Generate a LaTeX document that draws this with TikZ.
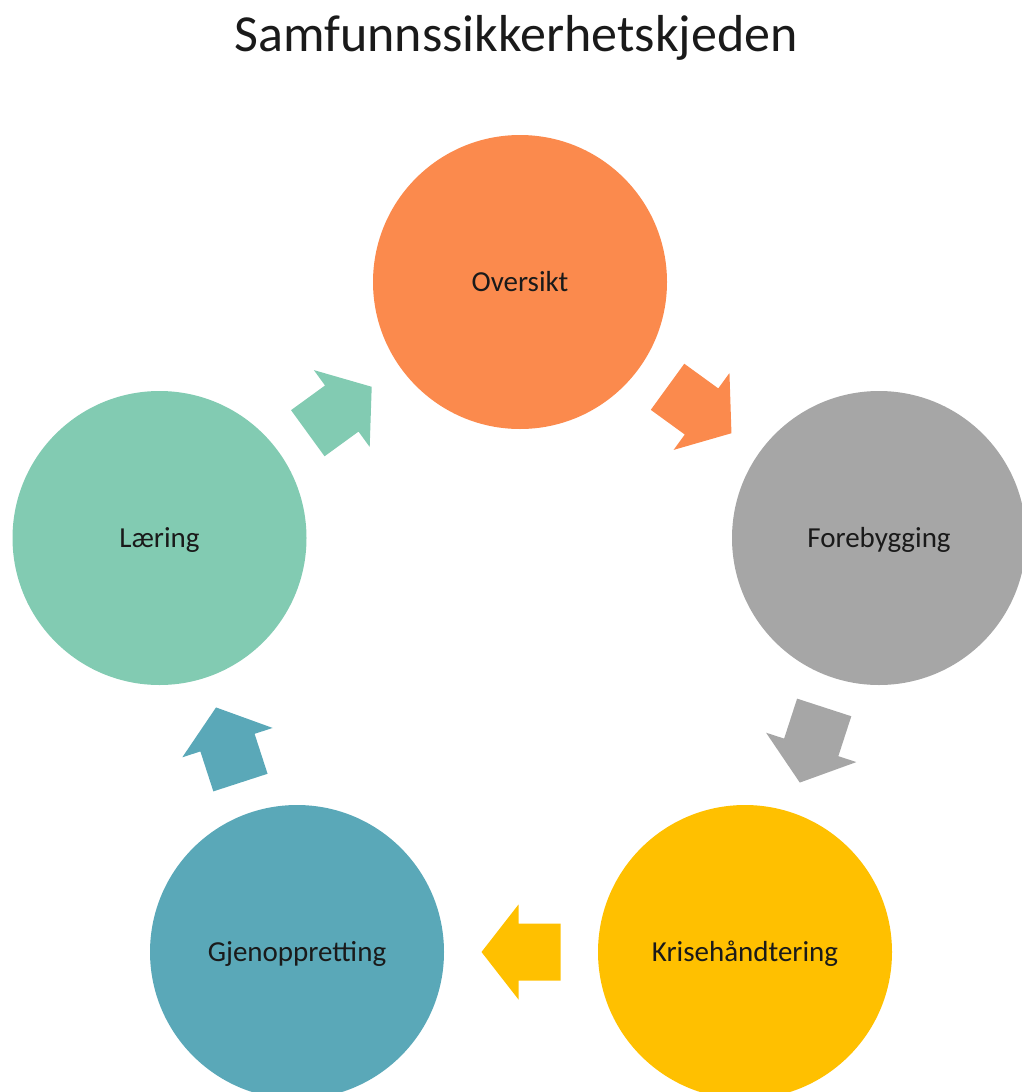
\documentclass[tikz,border=0pt]{standalone}
\usepackage{fontspec}
\setmainfont{Carlito}
\usetikzlibrary{calc}
\definecolor{cOrange}{HTML}{FB8A4D}
\definecolor{cGray}{HTML}{A6A6A6}
\definecolor{cYellow}{HTML}{FFC000}
\definecolor{cBlue}{HTML}{5AA8B8}
\definecolor{cGreen}{HTML}{82CBB2}
\definecolor{cText}{HTML}{1A1A1A}
\newcommand\blockarrow[3]{%
  \fill[#3, shift={(#1)}, rotate=#2]
    (-39.5,28.5) -- (2.5,28.5) -- (2.5,47.5) -- (39.5,0)
    -- (2.5,-47.5) -- (2.5,-28.5) -- (-39.5,-28.5) -- cycle;}
\begin{document}
\begin{tikzpicture}[x=1pt,y=1pt,
  phase/.style={circle, minimum size=294pt, inner sep=0pt,
    font=\fontsize{29}{34}\selectfont, text=cText,
    text height=18.7pt, text depth=0pt}]
\useasboundingbox (0,0) rectangle (1022,-1092);
\node[font=\fontsize{52}{60}\selectfont, text=cText, anchor=base] (title) at (516,-51) {Samfunnssikkerhetskjeden};
\node[phase, fill=cOrange] (ov) at (520,-282) {Oversikt};
\node[phase, fill=cGray] (fo) at (879,-538) {Forebygging};
\node[phase, fill=cYellow] (kr) at (745,-952) {Krisehåndtering};
\node[phase, fill=cBlue] (gj) at (297,-952) {Gjenoppretting};
\node[phase, fill=cGreen] (la) at (159.5,-538) {Læring};
\coordinate (a1) at ($(ov)!0.5!(fo)$);
\coordinate (a2) at ($(fo)!0.5!(kr)$);
\coordinate (a3) at ($(kr)!0.5!(gj)$);
\coordinate (a4) at ($(gj)!0.5!(la)$);
\coordinate (a5) at ($(la)!0.5!(ov)$);
\blockarrow{a1}{-36}{cOrange}
\blockarrow{a2}{-108}{cGray}
\blockarrow{a3}{180}{cYellow}
\blockarrow{a4}{108}{cBlue}
\blockarrow{a5}{36}{cGreen}
\end{tikzpicture}
\end{document}
